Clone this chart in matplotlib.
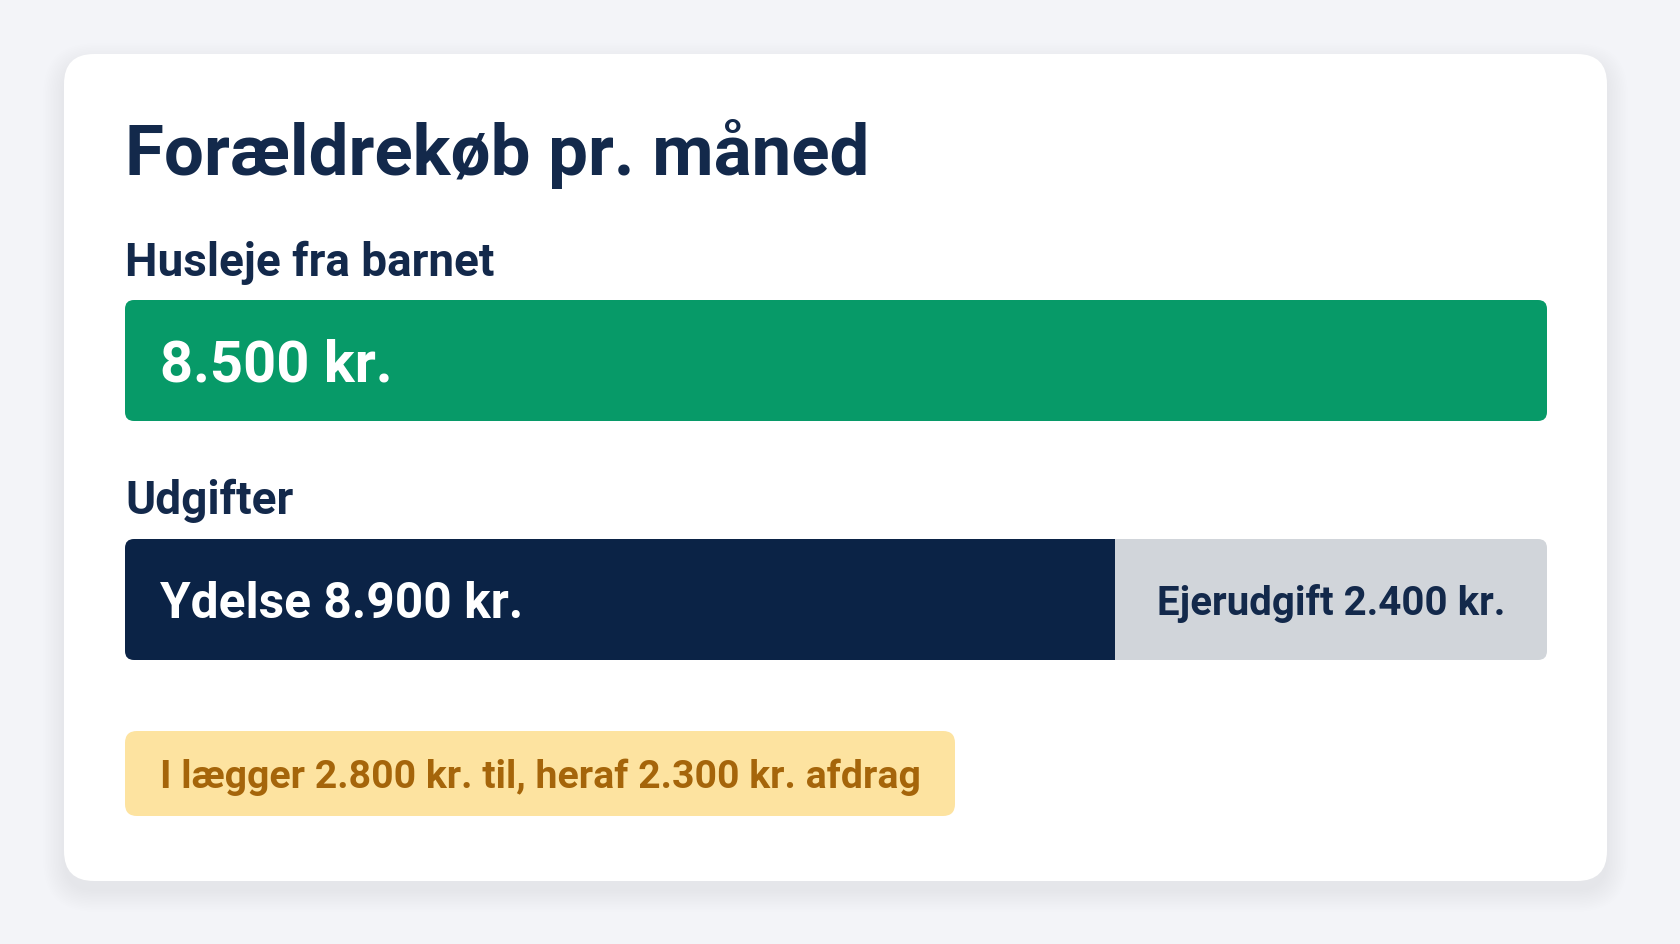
import matplotlib
matplotlib.use("Agg")
import matplotlib.pyplot as plt
from matplotlib.patches import FancyBboxPatch

# ---- data ----
title = "Forældrekøb pr. måned"
row_labels = ["Husleje fra barnet", "Udgifter"]
rent_value = 8500
expense_names = ["Ydelse", "Ejerudgift"]
expense_values = [8900, 2400]
expense_layout_weights = [0.696, 0.304]   # displayed share of the expense bar
contribution = 2800
repayment = 2300

def kr(v):
    return f"{v:,}".replace(",", ".") + " kr."

# ---- style ----
BG = "#F3F4F8"
NAVY = "#13294B"
GREEN = "#079A68"
DARK = "#0B2346"
GREY = "#D1D5DA"
YEL = "#FDE3A0"
YEL_TXT = "#A5650A"
FONT = ["Roboto", "DejaVu Sans"]
plt.rcParams["font.family"] = FONT

W, H = 1680, 944
fig = plt.figure(figsize=(W / 100, H / 100), dpi=100, facecolor=BG)
bg = fig.add_axes([0, 0, 1, 1])
bg.set_xlim(0, W)
bg.set_ylim(H, 0)
bg.axis("off")

# card shadow + card
cx0, cy0, cx1, cy1 = 64, 54, 1607, 881
for i in range(14):
    g = i * 1.6
    sh = FancyBboxPatch((cx0 - g, cy0 - g + 10), (cx1 - cx0) + 2 * g, (cy1 - cy0) + 2 * g,
                        boxstyle=f"round,pad=0,rounding_size={30 + g}",
                        fc="#1f2a44", ec="none", alpha=0.0045, zorder=1)
    bg.add_patch(sh)
card = FancyBboxPatch((cx0, cy0), cx1 - cx0, cy1 - cy0,
                      boxstyle="round,pad=0,rounding_size=30",
                      fc="white", ec="none", zorder=2)
bg.add_patch(card)

# note box
nb = FancyBboxPatch((125, 731), 830, 85, boxstyle="round,pad=0,rounding_size=12",
                    fc=YEL, ec="none", zorder=3)
bg.add_patch(nb)

# bar rows
bx0, bx1 = 125, 1547
rows_px = [(300, 421), (539, 660)]

def row_axes(y0, y1):
    ax = fig.add_axes([bx0 / W, 1 - y1 / H, (bx1 - bx0) / W, (y1 - y0) / H])
    ax.axis("off")
    ax.set_ylim(-0.5, 0.5)
    clip = FancyBboxPatch((bx0, y0), bx1 - bx0, y1 - y0,
                          boxstyle="round,pad=0,rounding_size=9",
                          transform=bg.transData, fc="none", ec="none")
    return ax, clip

ax1, clip1 = row_axes(*rows_px[0])
ax1.set_xlim(0, rent_value)
b = ax1.barh([0], [rent_value], height=1.0, color=GREEN, edgecolor="none")
for p in b:
    p.set_clip_path(clip1)

ax2, clip2 = row_axes(*rows_px[1])
ax2.set_xlim(0, sum(expense_layout_weights))
lefts = [0, expense_layout_weights[0]]
bars = ax2.barh([0, 0], expense_layout_weights, left=lefts, height=1.0,
                color=[DARK, GREY], edgecolor="none")
for p in bars:
    p.set_clip_path(clip2)
ax2.text(lefts[1] + expense_layout_weights[1] / 2, 0,
         f"{expense_names[1]} {kr(expense_values[1])}", fontsize=29,
         fontweight="bold", color=NAVY, ha="center", va="center_baseline")

# overlay for text (drawn above the bar axes)
top = fig.add_axes([0, 0, 1, 1])
top.set_xlim(0, W)
top.set_ylim(H, 0)
top.axis("off")
top.patch.set_alpha(0)

top.text(125, 175, title, fontsize=51, fontweight="bold", color=NAVY,
         va="baseline", ha="left")
top.text(125, 276, row_labels[0], fontsize=33, fontweight="bold", color=NAVY,
         va="baseline", ha="left")
top.text(125, 514, row_labels[1], fontsize=33, fontweight="bold", color=NAVY,
         va="baseline", ha="left")
top.text(160, 382, kr(rent_value), fontsize=41.7, fontweight="bold", color="white",
         va="baseline", ha="left")
top.text(160, 618, f"{expense_names[0]} {kr(expense_values[0])}", fontsize=35.7,
         fontweight="bold", color="white", va="baseline", ha="left")
top.text(540, 773.5, f"I lægger {kr(contribution)} til, heraf {kr(repayment)} afdrag",
         fontsize=28.3, fontweight="bold", color=YEL_TXT, ha="center",
         va="center_baseline")

fig.savefig("out.png", dpi=100, facecolor=BG)
